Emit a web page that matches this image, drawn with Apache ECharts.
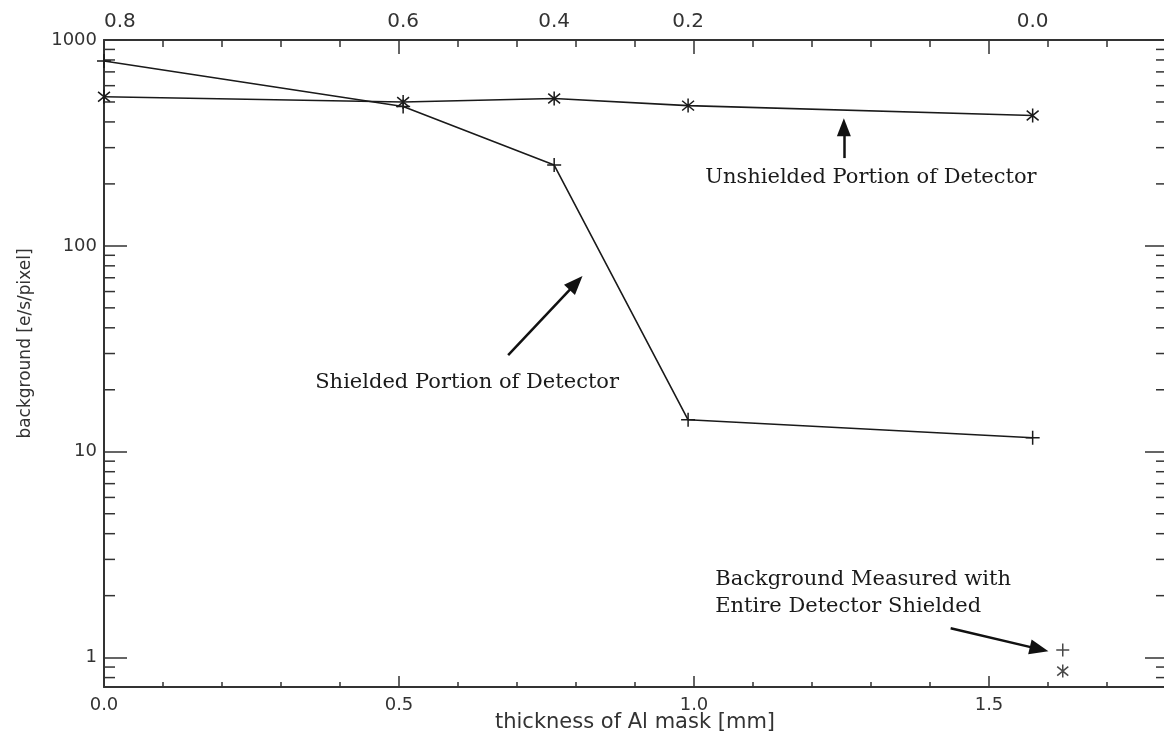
<!DOCTYPE html>
<html>
<head>
<meta charset="utf-8">
<script src="https://cdn.jsdelivr.net/npm/echarts@6/dist/echarts.min.js"></script>
<style>
html,body{margin:0;padding:0;background:#fff;}
#chart{width:1164px;height:734px;}
</style>
</head>
<body>
<div id="chart"></div>
<script>
// ---- data ----
const thicknessMm = [0, 0.507, 0.763, 0.99, 1.574];
const unshieldedBg = [530, 500, 520, 480, 430];
const shieldedBg = [790, 475, 247, 14.3, 11.7];
const topAxisLabels = ['0.8', '0.6', '0.4', '0.2', '0.0'];
const entireShieldX = [1.625];
const entireShieldPlus = [1.09];
const entireShieldStar = [0.86];
const yMajorTicks = [1, 10, 100, 1000];
const yMinorTicks = [0.8, 0.9, 2, 3, 4, 5, 6, 7, 8, 9, 20, 30, 40, 50, 60, 70, 80, 90, 200, 300, 400, 500, 600, 700, 800, 900];

// annotation anchors in data units
const noteUnshielded = {text: 'Unshielded Portion of Detector', at: [1.019, 214]};
const noteShielded = {text: 'Shielded Portion of Detector', at: [0.358, 21.8]};
const noteEntire = {text: 'Background Measured with\nEntire Detector Shielded', at: [1.036, 2.05]};
const arrowUnshielded = [[1.254, 267], [1.254, 377]];
const arrowShielded = [[0.685, 29.5], [0.80, 66]];
const arrowEntire = [[1.435, 1.39], [1.585, 1.10]];

const AX = '#333';
const STAR = 'path://M0 -10 L0 10 M-8.5 -7 L8.5 7 M-8.5 7 L8.5 -7';
const PLUS = 'path://M-10 0 L10 0 M0 -10 L0 10';

function pairs(xs, ys) { return xs.map((x, i) => [x, ys[i]]); }

const chart = echarts.init(document.getElementById('chart'), null, {renderer: 'canvas'});

const tickFont = {fontFamily: 'DejaVu Sans', color: AX};

function arrowLine(a, w, size) {
  return [
    {coord: a[0], symbol: 'none'},
    {coord: a[1], symbol: 'triangle', symbolSize: size, lineStyle: {width: w}}
  ];
}

const option = {
  backgroundColor: '#fff',
  animation: false,
  grid: {left: 104, right: -2, top: 40, bottom: 47, containLabel: false, outerBoundsMode: 'none'},
  xAxis: [
    { // bottom, minor ticks
      type: 'value', position: 'bottom', min: 0, max: 1.8, interval: 0.1,
      axisLine: {show: true, onZero: false, lineStyle: {color: AX, width: 2}},
      axisTick: {show: true, inside: true, length: 5, lineStyle: {color: AX, width: 1.5}},
      axisLabel: {show: false}, splitLine: {show: false}
    },
    { // bottom, major ticks + labels
      type: 'value', position: 'bottom', min: 0, max: 1.8, interval: 0.5,
      name: 'thickness of Al mask [mm]', nameLocation: 'middle', nameGap: 25, nameMoveOverlap: false,
      nameTextStyle: {fontFamily: 'DejaVu Sans', fontSize: 21, color: AX},
      axisLine: {show: false, onZero: false},
      axisTick: {show: true, inside: true, length: 11, lineStyle: {color: AX, width: 1.5}},
      axisLabel: Object.assign({show: true, fontSize: 18, margin: 9, showMaxLabel: false,
        formatter: v => v.toFixed(1)}, tickFont),
      splitLine: {show: false}
    },
    { // top, minor ticks
      type: 'value', position: 'top', min: 0, max: 1.8, interval: 0.1,
      axisLine: {show: true, onZero: false, lineStyle: {color: AX, width: 2}},
      axisTick: {show: true, inside: true, length: 7, lineStyle: {color: AX, width: 1.5}},
      axisLabel: {show: false}, splitLine: {show: false}
    },
    { // top, major ticks + custom labels
      type: 'value', position: 'top', min: 0, max: 1.8, interval: 0.5,
      axisLine: {show: false, onZero: false},
      axisTick: {show: true, inside: true, length: 14, lineStyle: {color: AX, width: 1.5}},
      axisLabel: Object.assign({show: true, fontSize: 20, margin: 8,
        customValues: thicknessMm, alignMinLabel: 'left',
        formatter: v => {
          const i = thicknessMm.findIndex(t => Math.abs(t - v) < 1e-6);
          return i >= 0 ? topAxisLabels[i] : '';
        }}, tickFont),
      splitLine: {show: false}
    }
  ],
  yAxis: [
    {
      type: 'log', logBase: 10, min: 0.72, max: 1000, position: 'left',
      name: 'background [e/s/pixel]', nameLocation: 'middle', nameGap: 70,
      nameTextStyle: {fontFamily: 'DejaVu Sans', fontSize: 17, color: AX, padding: [0, 0, 0, 40]},
      axisLine: {show: true, onZero: false, lineStyle: {color: AX, width: 2}},
      axisTick: {show: true, inside: true, length: 23, lineStyle: {color: AX, width: 1.5}},
      axisLabel: Object.assign({show: true, fontSize: 18, margin: 7, showMinLabel: false,
        formatter: v => String(Math.round(v))}, tickFont),
      splitLine: {show: false}
    },
    {
      type: 'log', logBase: 10, min: 0.72, max: 1000, position: 'right',
      axisLine: {show: true, onZero: false, lineStyle: {color: AX, width: 2}},
      axisTick: {show: true, inside: true, length: 21, lineStyle: {color: AX, width: 1.5}},
      axisLabel: {show: false}, splitLine: {show: false}
    }
  ],
  series: [
    {
      type: 'line', name: 'Unshielded', data: pairs(thicknessMm, unshieldedBg),
      symbol: STAR, symbolSize: 14, symbolKeepAspect: true,
      itemStyle: {color: 'rgba(0,0,0,0)', borderColor: '#1a1a1a', borderWidth: 1.5},
      lineStyle: {color: '#1a1a1a', width: 1.6}, z: 5
    },
    {
      type: 'line', name: 'Shielded', data: pairs(thicknessMm, shieldedBg),
      symbol: PLUS, symbolSize: 14, symbolKeepAspect: true,
      itemStyle: {color: 'rgba(0,0,0,0)', borderColor: '#1a1a1a', borderWidth: 1.5},
      lineStyle: {color: '#1a1a1a', width: 1.6}, z: 5,
      markLine: {
        silent: true, animation: false, symbol: ['none', 'triangle'],
        label: {show: false},
        lineStyle: {color: '#111', type: 'solid', width: 2.5},
        data: [
          arrowLine(arrowUnshielded, 2.5, [14, 18]),
          arrowLine(arrowShielded, 2.5, [15, 19]),
          arrowLine(arrowEntire, 2.5, [15, 19])
        ]
      },
      markPoint: {
        silent: true, animation: false, symbol: 'circle', symbolSize: 0,
        label: {show: true, position: [0, 0], align: 'left', verticalAlign: 'middle',
          fontFamily: 'DejaVu Serif', fontSize: 21, color: '#1a1a1a', lineHeight: 27},
        data: [noteUnshielded, noteShielded, noteEntire].map(n => ({
          coord: n.at, value: 0, label: {formatter: n.text}
        }))
      }
    },
    {
      type: 'scatter', name: 'Entire shielded (+)', data: pairs(entireShieldX, entireShieldPlus),
      symbol: PLUS, symbolSize: 13, symbolKeepAspect: true,
      itemStyle: {color: 'rgba(0,0,0,0)', borderColor: '#1a1a1a', borderWidth: 1.5}, z: 5
    },
    {
      type: 'scatter', name: 'Entire shielded (*)', data: pairs(entireShieldX, entireShieldStar),
      symbol: STAR, symbolSize: 13, symbolKeepAspect: true,
      itemStyle: {color: 'rgba(0,0,0,0)', borderColor: '#1a1a1a', borderWidth: 1.5}, z: 5
    },
    {
      type: 'custom', name: 'minor y ticks', silent: true, z: 4,
      data: yMinorTicks.map(v => [0, v]),
      renderItem: function (params, api) {
        const p = api.coord([api.value(0), api.value(1)]);
        const cs = params.coordSys;
        const st = {stroke: AX, lineWidth: 1.5};
        return {type: 'group', children: [
          {type: 'line', shape: {x1: cs.x, y1: p[1], x2: cs.x + 11, y2: p[1]}, style: st},
          {type: 'line', shape: {x1: cs.x + cs.width - 10, y1: p[1], x2: cs.x + cs.width, y2: p[1]}, style: st}
        ]};
      }
    }
  ]
};
chart.setOption(option);
</script>
</body>
</html>
